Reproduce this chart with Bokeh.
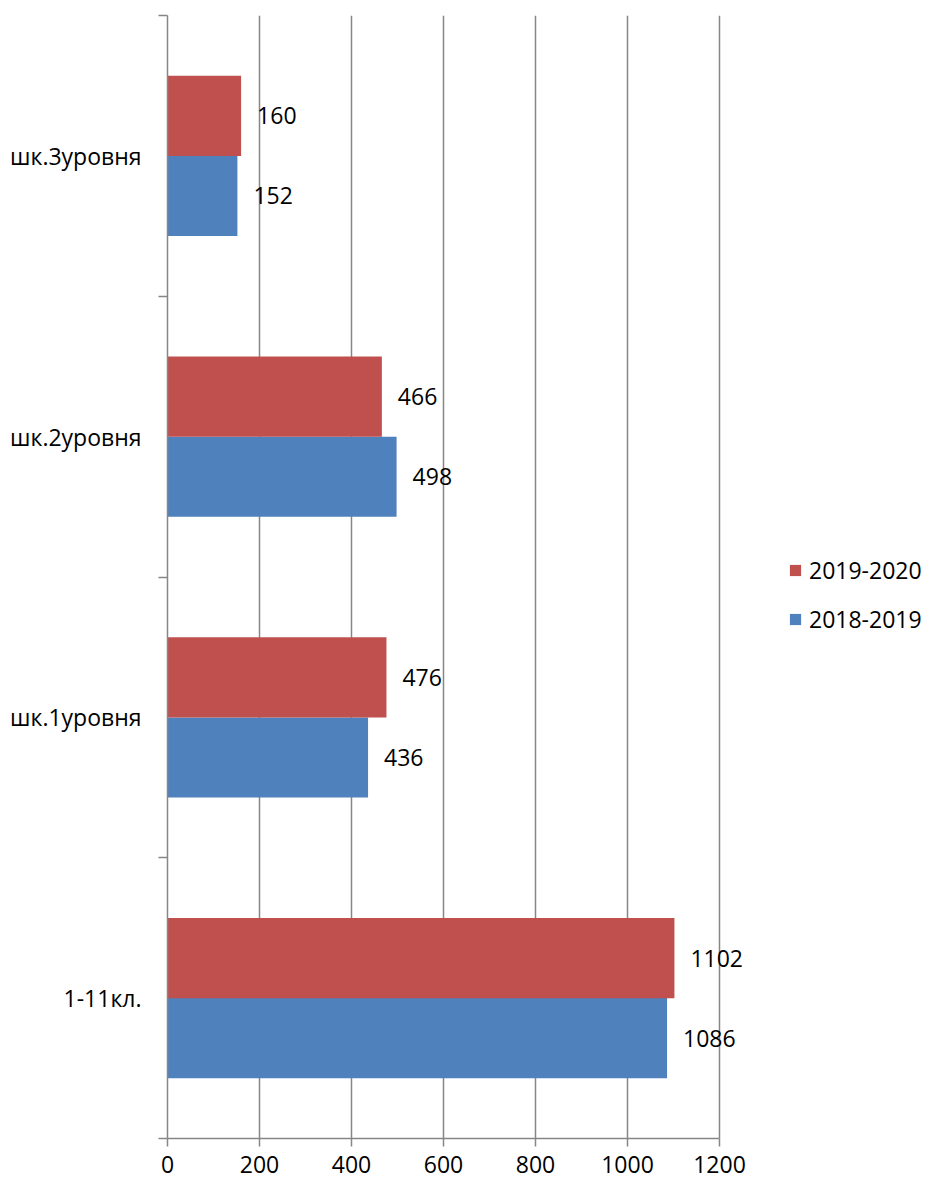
from bokeh.plotting import figure
from bokeh.models import (ColumnDataSource, FixedTicker, Range1d, Legend, LegendItem,
                          LabelSet)
from bokeh.core.properties import value
from bokeh.transform import dodge
from bokeh.embed import file_html
from bokeh.resources import INLINE

categories = ["1-11кл.", "шк.1уровня", "шк.2уровня", "шк.3уровня"]
series_names = ["2018-2019", "2019-2020"]
values_2018_2019 = [1086, 436, 498, 152]
values_2019_2020 = [1102, 476, 466, 160]
x_ticks = [0, 200, 400, 600, 800, 1000, 1200]

RED = "#C0504D"
BLUE = "#4F81BD"
GRID = "#868686"
FONT = "Open Sans"
FS = "23px"

# layout (pixels)
LEFT = 167
TOP = 15
DATA_W = 552          # pixel width of the 0..1200 data span
FRAME_W = 764         # frame extends to the right edge to host the legend
FRAME_H = 1123
X_MAX = x_ticks[-1]
x_end = X_MAX * FRAME_W / DATA_W

pos = [i + 0.5 for i in range(len(categories))]
src = ColumnDataSource(dict(
    y=pos,
    a=values_2018_2019,
    b=values_2019_2020,
    la=[str(v) for v in values_2018_2019],
    lb=[str(v) for v in values_2019_2020],
))

p = figure(frame_width=FRAME_W, frame_height=FRAME_H, output_backend="svg",
           toolbar_location=None,
           x_range=Range1d(0, x_end), y_range=Range1d(0, len(categories)),
           min_border_left=LEFT, min_border_top=TOP, min_border_right=0,
           min_border_bottom=40)
p.outline_line_color = None
p.background_fill_color = "white"
p.border_fill_color = "white"

off = 0.1425
hb = 0.285
rb = p.hbar(y=dodge("y", -off, range=p.y_range), right="a", left=0, height=hb,
            source=src, fill_color=BLUE, line_color=None)
rr = p.hbar(y=dodge("y", off, range=p.y_range), right="b", left=0, height=hb,
            source=src, fill_color=RED, line_color=None)

for col, lab, d in (("a", "la", -off), ("b", "lb", off)):
    ls = LabelSet(x=col, y=dodge("y", d, range=p.y_range), text=lab, source=src,
                  x_offset=16, text_align="left", text_baseline="middle",
                  text_font=value(FONT), text_font_size=value(FS), text_color="black")
    p.add_layout(ls)

# x axis
p.xaxis.ticker = FixedTicker(ticks=x_ticks)
p.xaxis.bounds = (0, X_MAX)
p.xaxis.axis_line_color = GRID
p.xaxis.axis_line_width = 1.5
p.xaxis.major_tick_line_color = GRID
p.xaxis.major_tick_line_width = 1.5
p.xaxis.major_tick_out = 8
p.xaxis.major_tick_in = 0
p.xaxis.minor_tick_line_color = None
p.xaxis.major_label_text_font = FONT
p.xaxis.major_label_text_font_size = FS
p.xaxis.major_label_text_color = "black"
p.xaxis.major_label_standoff = 9

# y axis
p.yaxis.ticker = FixedTicker(ticks=pos, minor_ticks=list(range(len(categories) + 1)))
p.yaxis.major_label_overrides = {pv: c for pv, c in zip(pos, categories)}
p.yaxis.axis_line_color = GRID
p.yaxis.axis_line_width = 1.5
p.yaxis.major_tick_line_color = None
p.yaxis.major_tick_out = 0
p.yaxis.major_tick_in = 0
p.yaxis.minor_tick_line_color = GRID
p.yaxis.minor_tick_line_width = 1.5
p.yaxis.minor_tick_out = 9
p.yaxis.minor_tick_in = 0
p.yaxis.major_label_text_font = FONT
p.yaxis.major_label_text_font_size = FS
p.yaxis.major_label_text_color = "black"
p.yaxis.major_label_standoff = 17

p.xgrid.ticker = FixedTicker(ticks=x_ticks)
p.xgrid.grid_line_color = GRID
p.xgrid.grid_line_width = 1.5
p.ygrid.grid_line_color = None

legend = Legend(items=[LegendItem(label=series_names[1], renderers=[rr]),
                       LegendItem(label=series_names[0], renderers=[rb])],
                location=(621, 503), orientation="vertical")
legend.border_line_color = None
legend.background_fill_alpha = 0
legend.label_text_font = FONT
legend.label_text_font_size = FS
legend.label_text_color = "black"
legend.glyph_width = 14
legend.glyph_height = 14
legend.label_standoff = 7
legend.spacing = 17
legend.padding = 0
legend.margin = 0
p.add_layout(legend, "center")

open("out.html", "w").write(file_html(p, INLINE))
